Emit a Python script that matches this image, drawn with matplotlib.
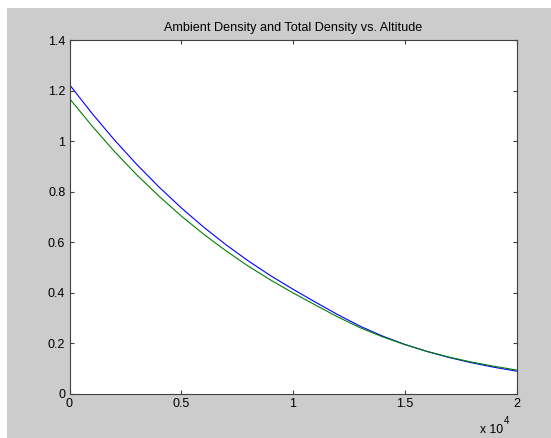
import numpy as np
import matplotlib as mpl
mpl.use("Agg")
import matplotlib.pyplot as plt
from matplotlib.patches import Rectangle

plt.rc('font', family=['Liberation Sans', 'DejaVu Sans'])

# altitude (m)
altitude = [0, 1000, 2000, 3000, 4000, 5000, 6000, 7000, 8000, 9000, 10000,
            11000, 12000, 13000, 14000, 15000, 16000, 17000, 18000, 19000, 20000]
# total density (blue)
total_density = [1.2250, 1.1117, 1.0066, 0.9093, 0.8194, 0.7364, 0.6601, 0.5900,
                 0.5258, 0.4671, 0.4135, 0.3625, 0.3130, 0.2670, 0.2279, 0.1948,
                 0.1665, 0.1423, 0.1217, 0.1040, 0.0889]
# ambient density (green)
ambient_density = [1.170, 1.062, 0.961, 0.868, 0.783, 0.704, 0.632, 0.566,
                   0.505, 0.450, 0.399, 0.351, 0.304, 0.261, 0.225, 0.194,
                   0.167, 0.144, 0.1245, 0.108, 0.093]

xticks = [0, 5000, 10000, 15000, 20000]
xticklabels = ['0', '0.5', '1', '1.5', '2']
yticks = [0, 0.2, 0.4, 0.6, 0.8, 1, 1.2, 1.4]
yticklabels = ['0', '0.2', '0.4', '0.6', '0.8', '1', '1.2', '1.4']

fig = plt.figure(figsize=(5.51, 4.38), dpi=100)
fig.patch.set_facecolor('white')
# matlab-style grey figure area (screenshot has a thin white margin top/left)
fig.patches.append(Rectangle((7 / 551, 0), 1, (438 - 8) / 438, transform=fig.transFigure,
                             facecolor='#cccccc', edgecolor='none', zorder=-10))

ax = fig.add_axes([69.5 / 551, 44.5 / 438, 447 / 551, 353 / 438])
ax.plot(altitude, total_density, color='#0000ff', lw=0.8)
ax.plot(altitude, ambient_density, color='#008000', lw=0.8)

ax.set_xlim(0, 20000)
ax.set_ylim(0, 1.4)
ax.set_xticks(xticks)
ax.set_xticklabels(xticklabels)
ax.set_yticks(yticks)
ax.set_yticklabels(yticklabels)
ax.tick_params(direction='in', length=3, width=0.8, top=True, right=True,
               labelsize=9, pad=3, colors='#404040', labelcolor='black')
for s in ax.spines.values():
    s.set_color('#404040')
    s.set_linewidth(0.8)

ax.set_title('Ambient Density and Total Density vs. Altitude', fontsize=9.1, pad=6.5)

fig.text(480 / 551, (438 - 433) / 438, 'x 10', fontsize=8.7, va='baseline', ha='left')
fig.text(503.5 / 551, (438 - 424) / 438, '4', fontsize=7, va='baseline', ha='left')

fig.savefig('out.png', dpi=100, facecolor=fig.get_facecolor())
